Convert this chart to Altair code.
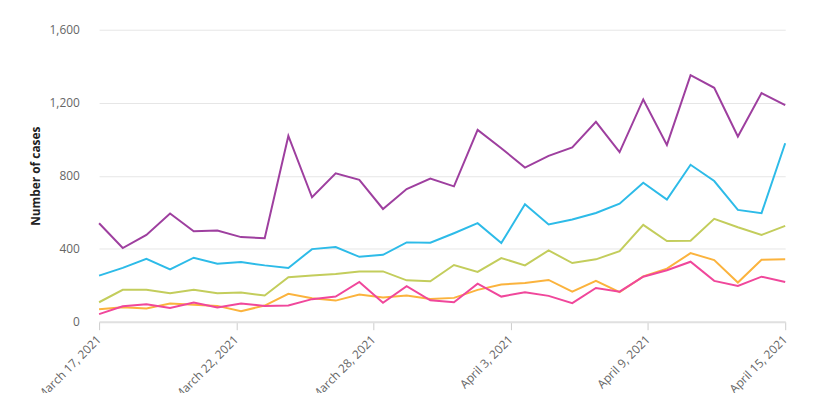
import altair as alt
import pandas as pd

dates = [
    "2021/03/17", "2021/03/18", "2021/03/19", "2021/03/20", "2021/03/21",
    "2021/03/22", "2021/03/23", "2021/03/24", "2021/03/25", "2021/03/26",
    "2021/03/27", "2021/03/28", "2021/03/29", "2021/03/30", "2021/03/31",
    "2021/04/01", "2021/04/02", "2021/04/03", "2021/04/04", "2021/04/05",
    "2021/04/06", "2021/04/07", "2021/04/08", "2021/04/09", "2021/04/10",
    "2021/04/11", "2021/04/12", "2021/04/13", "2021/04/14", "2021/04/15",
]

series_names = ["Series A", "Series B", "Series C", "Series D", "Series E"]
series_colors = ["#9e3f9f", "#2dbbe8", "#c3cd5c", "#fbb33d", "#f0479b"]

purple = [540, 404, 476, 593, 496, 500, 464, 458, 1018, 682,
          813, 778, 618, 727, 784, 742, 1051, 951, 845, 909,
          955, 1095, 929, 1218, 969, 1351, 1282, 1015, 1253, 1187]
cyan = [253, 295, 345, 287, 351, 318, 327, 309, 295, 398,
        409, 356, 367, 435, 433, 485, 540, 431, 644, 533,
        560, 596, 647, 762, 669, 860, 771, 613, 595, 978]
green = [107, 175, 175, 156, 176, 156, 160, 144, 244, 253,
         262, 276, 276, 227, 222, 311, 273, 349, 309, 391,
         322, 342, 387, 531, 442, 444, 564, 518, 476, 525]
orange = [69, 80, 73, 100, 93, 87, 58, 89, 153, 129,
          116, 149, 133, 144, 125, 131, 175, 204, 213, 229,
          165, 224, 162, 249, 291, 376, 338, 215, 340, 342]
pink = [42, 85, 96, 76, 105, 78, 100, 87, 89, 124,
        138, 218, 104, 195, 118, 107, 209, 138, 162, 142,
        102, 185, 165, 247, 282, 329, 224, 196, 247, 218]

all_values = [purple, cyan, green, orange, pink]

rows = []
for name, vals in zip(series_names, all_values):
    for d, v in zip(dates, vals):
        rows.append({"date": d, "series": name, "cases": v})
df = pd.DataFrame(rows)

tick_values = [
    alt.DateTime(year=2021, month=3, date=17),
    alt.DateTime(year=2021, month=3, date=22, hours=19, minutes=12),
    alt.DateTime(year=2021, month=3, date=28, hours=14, minutes=24),
    alt.DateTime(year=2021, month=4, date=3, hours=9, minutes=36),
    alt.DateTime(year=2021, month=4, date=9, hours=4, minutes=48),
    alt.DateTime(year=2021, month=4, date=15),
]

chart = alt.Chart(df).mark_line(strokeWidth=2).encode(
    x=alt.X(
        "date:T",
        scale=alt.Scale(
            domain=[alt.DateTime(year=2021, month=3, date=17),
                    alt.DateTime(year=2021, month=4, date=15)],
            nice=False,
        ),
        axis=alt.Axis(
            values=tick_values,
            format="%B %-d, %Y",
            labelAngle=-45,
            labelAlign="right",
            labelBaseline="top",
            labelColor="#666666",
            labelFontSize=12,
            labelPadding=4,
            labelOffset=-4,
            tickColor="#cccccc",
            tickSize=8,
            domainColor="#e0e0e0",
            domainWidth=2,
            grid=False,
            title=None,
            labelOverlap=False,
            labelFlush=False,
        ),
    ),
    y=alt.Y(
        "cases:Q",
        scale=alt.Scale(domain=[0, 1600], nice=False),
        axis=alt.Axis(
            values=[0, 400, 800, 1200, 1600],
            format=",.0f",
            title="Number of cases",
            titleFontSize=12,
            titleFontWeight="bold",
            titleColor="#222222",
            titlePadding=7,
            labelColor="#666666",
            labelFontSize=12,
            labelPadding=20,
            ticks=False,
            domain=False,
            gridColor="#e6e6e6",
            gridWidth=1,
        ),
    ),
    color=alt.Color(
        "series:N",
        scale=alt.Scale(domain=series_names, range=series_colors),
        legend=None,
    ),
).properties(
    width=693,
    height=295,
    autosize=alt.AutoSizeParams(type="none"),
    padding={"left": 92, "top": 20, "right": 20, "bottom": 70},
).configure(
    font="Open Sans",
).configure_view(
    stroke=None,
)

chart.save("out.html", embed_options={"renderer": "svg", "actions": False})
